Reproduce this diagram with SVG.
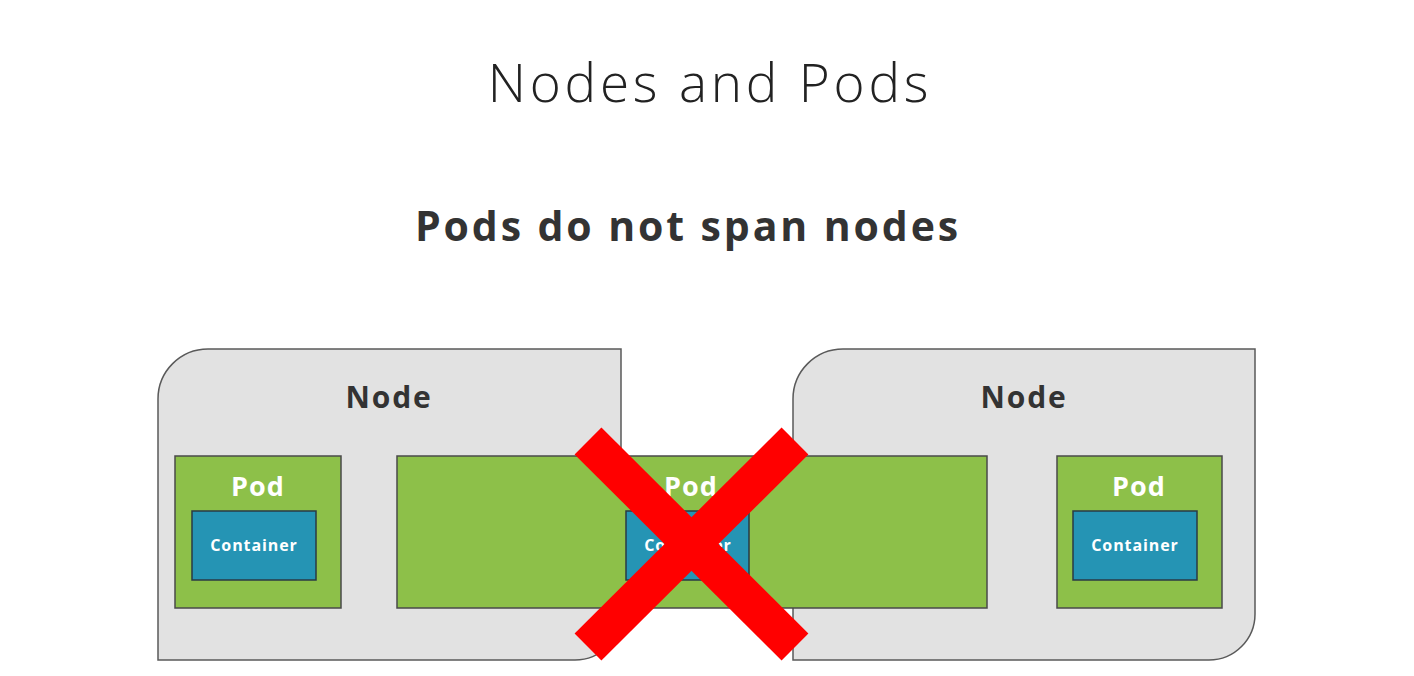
<svg xmlns="http://www.w3.org/2000/svg" width="1414" height="676" viewBox="0 0 1414 676">
<style>
.node{fill:#e2e2e2;stroke:#5a5a5a;stroke-width:1.5}
.pod{fill:#8dc049;stroke:#4a4a4a;stroke-width:1.5}
.ctr{fill:#2594b4;stroke:#2a3a44;stroke-width:1.5}
.nt{font-family:"Open Sans","Liberation Sans",sans-serif;font-weight:700;font-size:30px;fill:#333;text-anchor:middle;letter-spacing:1.8px}
.pt{font-family:"Open Sans","Liberation Sans",sans-serif;font-weight:700;font-size:27px;fill:#fff;text-anchor:middle;letter-spacing:1px}
.ct{font-family:"Open Sans","Liberation Sans",sans-serif;font-weight:700;font-size:16px;fill:#fff;text-anchor:middle;letter-spacing:0.9px}
.x{stroke:#ff0000;stroke-width:38;stroke-linecap:butt}
</style>
<rect width="1414" height="676" fill="#fff"/>
<g id="title">
<text x="710" y="102" font-family="Open Sans, Liberation Sans, sans-serif" font-weight="300" font-size="53" fill="#222" text-anchor="middle" letter-spacing="3.8">Nodes and Pods</text>
<text x="688" y="241" font-family="Open Sans, Liberation Sans, sans-serif" font-weight="700" font-size="41" fill="#333" text-anchor="middle" letter-spacing="2.9">Pods do not span nodes</text>
</g>
<g id="node-left">
<path class="node" d="M208,349 H621 V614 A46,46 0 0 1 575,660 H158 V399 A50,50 0 0 1 208,349 Z"/>
<text class="nt" x="389" y="408">Node</text>
</g>
<g id="node-right">
<path class="node" d="M843,349 H1255 V614 A46,46 0 0 1 1209,660 H793 V399 A50,50 0 0 1 843,349 Z"/>
<text class="nt" x="1024" y="408">Node</text>
</g>
<g id="pod-left">
<rect class="pod" x="175" y="456" width="166" height="152"/>
<text class="pt" x="258" y="496">Pod</text>
<rect class="ctr" x="192" y="511" width="124" height="69"/>
<text class="ct" x="254" y="551">Container</text>
</g>
<g id="pod-middle">
<rect class="pod" x="397" y="456" width="590" height="152"/>
<text class="pt" x="691" y="496">Pod</text>
<rect class="ctr" x="626" y="511" width="123" height="69"/>
<text class="ct" x="688" y="551">Container</text>
</g>
<g id="pod-right">
<rect class="pod" x="1057" y="456" width="165" height="152"/>
<text class="pt" x="1139" y="496">Pod</text>
<rect class="ctr" x="1073" y="511" width="124" height="69"/>
<text class="ct" x="1135" y="551">Container</text>
</g>
<g id="connectors"></g>
<g id="cross">
<line class="x" x1="588" y1="441" x2="795" y2="647"/>
<line class="x" x1="795" y1="441" x2="588" y2="647"/>
</g>
</svg>
